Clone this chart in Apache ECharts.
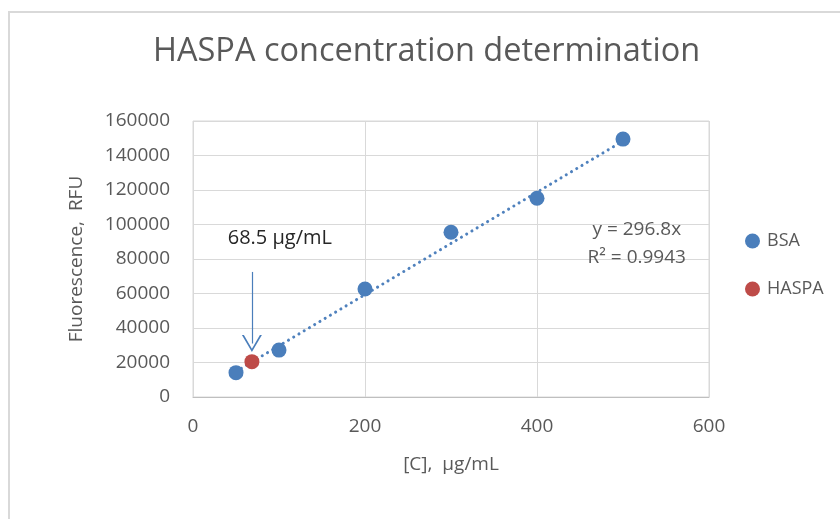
<!DOCTYPE html>
<html>
<head>
<meta charset="utf-8">
<script src="https://cdn.jsdelivr.net/npm/echarts@6/dist/echarts.min.js"></script>
<style>html,body{margin:0;padding:0;background:#fff}#c{width:840px;height:519px}</style>
</head>
<body>
<div id="c"></div>
<script>
const titleText = 'HASPA concentration determination';
const xTicks = [0, 200, 400, 600];
const yTicks = [0, 20000, 40000, 60000, 80000, 100000, 120000, 140000, 160000];
const bsaX = [50, 100, 200, 300, 400, 500];
const bsaY = [14100, 27200, 62600, 95500, 115200, 149500];
const haspaX = [68.5];
const haspaY = [20500];
const trendX = [50, 500];
const trendY = [14840, 148400];
const equationLines = ['y = 296.8x', 'R² = 0.9943'];
const equationAt = [516, 89000];
const haspaLabel = '68.5 μg/mL';
const haspaLabelAt = [101, 92200];
const arrowFrom = [68.5, 72500];
const arrowTo = [68.5, 31000];

const FONT = "'Open Sans', 'Noto Sans', sans-serif";
const TXT = '#595959';
const chart = echarts.init(document.getElementById('c'), null, {renderer: 'canvas'});
chart.setOption({
  backgroundColor: '#fff',
  animation: false,
  textStyle: {fontFamily: FONT},
  graphic: [{
    type: 'rect', shape: {x: 9, y: 12, width: 900, height: 600},
    style: {fill: 'none', stroke: '#d9d9d9', lineWidth: 2}, z: -10, silent: true
  }],
  title: {
    text: titleText, left: 148, top: 30,
    textStyle: {fontFamily: FONT, fontSize: 32.5, fontWeight: 'normal', color: TXT}
  },
  legend: {
    data: ['BSA', 'HASPA'], orient: 'vertical', left: 740, top: 227,
    icon: 'circle', itemWidth: 15, itemHeight: 15, itemGap: 30,
    textStyle: {fontFamily: FONT, fontSize: 18, color: TXT, padding: [0, 0, 0, 2]}
  },
  grid: {left: 193, right: 131, top: 121, bottom: 122, show: true, borderColor: '#d9d9d9', borderWidth: 1},
  xAxis: {
    type: 'value', min: xTicks[0], max: xTicks[xTicks.length - 1], interval: 200,
    name: '[C],  μg/mL', nameLocation: 'middle', nameGap: 58,
    nameTextStyle: {fontFamily: FONT, fontSize: 19, color: TXT},
    axisLine: {show: true, lineStyle: {color: '#bfbfbf', width: 1}},
    axisTick: {show: false},
    axisLabel: {fontFamily: FONT, fontSize: 19, color: TXT, margin: 20},
    splitLine: {show: true, lineStyle: {color: '#d9d9d9', width: 1}}
  },
  yAxis: {
    type: 'value', min: yTicks[0], max: yTicks[yTicks.length - 1], interval: 20000,
    name: 'Fluorescence,  RFU', nameLocation: 'middle', nameGap: 107, nameRotate: 90,
    nameTextStyle: {fontFamily: FONT, fontSize: 19, color: TXT},
    axisLine: {show: false}, axisTick: {show: false},
    axisLabel: {fontFamily: FONT, fontSize: 19, color: TXT, margin: 23, formatter: v => String(v)},
    splitLine: {show: true, lineStyle: {color: '#d9d9d9', width: 1}}
  },
  series: [
    {
      name: 'Linear (BSA)', type: 'line', z: 1,
      data: trendX.map((x, i) => [x, trendY[i]]),
      symbol: 'none', silent: true,
      lineStyle: {color: '#4f81bd', width: 3, type: [0.1, 6], cap: 'round'},
      markPoint: {
        symbol: 'circle', symbolSize: 1, itemStyle: {color: 'rgba(0,0,0,0)'},
        label: {show: true, position: 'inside', formatter: equationLines.join('\n'),
          fontFamily: FONT, fontSize: 19, color: TXT, lineHeight: 28, align: 'center'},
        data: [{coord: equationAt}]
      }
    },
    {
      name: 'BSA', type: 'scatter', z: 3,
      data: bsaX.map((x, i) => [x, bsaY[i]]),
      symbol: 'circle', symbolSize: 15,
      itemStyle: {color: '#4a7ebb', opacity: 1}
    },
    {
      name: 'HASPA', type: 'scatter', z: 4,
      data: haspaX.map((x, i) => [x, haspaY[i]]),
      symbol: 'circle', symbolSize: 15,
      itemStyle: {color: '#be4b48', opacity: 1},
      markLine: {
        silent: true, animation: false,
        symbol: ['none', 'path://M0,10 L5,0 L10,10 L9,10 L5,2 L1,10 Z'],
        symbolSize: [20, 17],
        lineStyle: {color: '#4a7ebb', width: 1.2, type: 'solid'},
        label: {show: false},
        data: [[{coord: arrowFrom}, {coord: arrowTo}]]
      },
      markPoint: {
        symbol: 'circle', symbolSize: 1, itemStyle: {color: 'rgba(0,0,0,0)'},
        label: {show: true, position: 'inside', formatter: haspaLabel,
          fontFamily: FONT, fontSize: 20, color: '#262626'},
        data: [{coord: haspaLabelAt}]
      }
    }
  ]
});
</script>
</body>
</html>
